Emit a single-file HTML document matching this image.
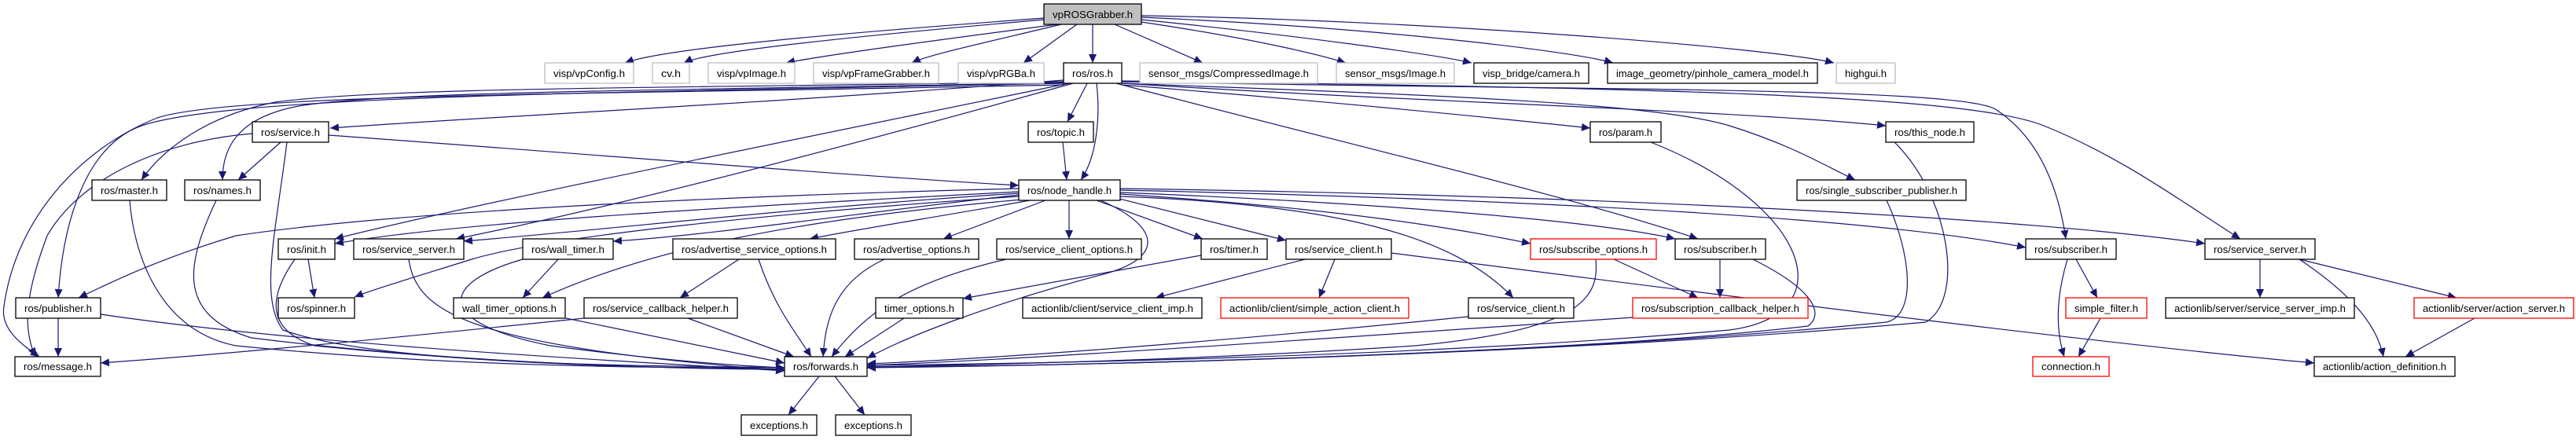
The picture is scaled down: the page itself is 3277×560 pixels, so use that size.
<!DOCTYPE html>
<html><head><meta charset="utf-8"><style>
html,body{margin:0;padding:0;background:#fff;width:3277px;height:560px;overflow:hidden}
svg{display:block}
text{font-family:"Liberation Sans",sans-serif;font-size:13px;fill:#000;text-anchor:middle}
.n{fill:#fff;stroke:#000;stroke-width:1.3}
.g{fill:#fff;stroke:#bfbfbf;stroke-width:1.3}
.r{fill:#fff;stroke:#ff0000;stroke-width:1.3}
.e{fill:none;stroke:#191970;stroke-width:1.2}
</style></head><body>
<svg width="3277" height="560" viewBox="0 0 3277 560" xmlns="http://www.w3.org/2000/svg">
<defs><marker id="a" markerUnits="userSpaceOnUse" markerWidth="12" markerHeight="10" refX="11" refY="5" orient="auto"><path d="M0,0 L11,5 L0,10 z" fill="#191970"/></marker></defs>
<g class="e" marker-end="url(#a)">
<path d="M1328,23 C1100,40 850,60 795,80"/>
<path d="M1328,25 C1100,45 900,65 870,80"/>
<path d="M1345,31 C1200,50 1050,70 1000,80"/>
<path d="M1350,31 C1250,55 1180,70 1160,80"/>
<path d="M1370,31 L1302,80"/>
<path d="M1390,31 L1390,80"/>
<path d="M1418,31 L1530,80"/>
<path d="M1452,28 C1600,50 1680,70 1712,80"/>
<path d="M1452,25 C1650,45 1830,70 1872,80"/>
<path d="M1452,22 C1750,35 2000,65 2052,80"/>
<path d="M1452,20 C1800,25 2250,60 2333,80"/>
<path d="M1353,102 C1000,130 600,150 420,163"/>
<path d="M1353,104 C900,112 500,110 350,130 C250,150 200,200 180,229"/>
<path d="M1353,105 C900,115 500,115 380,135 C300,150 283,190 283,229"/>
<path d="M1353,106 C800,118 300,120 180,160 C110,185 80,280 74,379"/>
<path d="M1353,108 C800,120 300,118 200,150 C100,190 20,280 5,390 C0,420 30,440 50,454"/>
<path d="M1360,106 C1000,180 600,260 426,304"/>
<path d="M1365,106 C1100,180 800,260 580,304"/>
<path d="M1383,106 L1358,155"/>
<path d="M1395,106 C1400,150 1395,200 1375,229"/>
<path d="M1427,108 C1700,130 1900,150 2023,163"/>
<path d="M1427,106 C1800,130 2200,140 2399,160"/>
<path d="M1427,106 C1800,120 2100,130 2200,160 C2280,185 2320,210 2360,229"/>
<path d="M1427,104 C2000,115 2500,110 2540,140 C2600,180 2620,250 2628,304"/>
<path d="M1427,103 C2100,112 2500,120 2600,160 C2700,200 2780,260 2850,304"/>
<path d="M1420,106 C1700,180 2000,250 2160,304"/>
<path d="M418,172 C800,200 1100,225 1296,236"/>
<path d="M357,181 L303,229"/>
<path d="M365,181 C350,300 330,380 360,420 C500,470 900,465 998,468"/>
<path d="M321,170 C200,180 100,230 60,300 C30,380 30,420 45,454"/>
<path d="M165,255 C170,320 200,420 300,440 C600,470 900,468 998,468"/>
<path d="M275,255 C240,330 220,400 320,430 C600,465 900,470 998,470"/>
<path d="M1352,181 L1357,229"/>
<path d="M2100,181 C2300,260 2350,400 2200,420 C1800,455 1300,463 1103,465"/>
<path d="M2410,181 C2480,250 2500,380 2450,410 C2000,450 1400,466 1103,467"/>
<path d="M2400,255 C2430,320 2440,400 2400,410 C2000,450 1400,466 1103,467"/>
<path d="M1296,240 C900,250 500,270 300,300 C200,330 140,360 100,379"/>
<path d="M1296,244 C1000,260 600,280 426,310"/>
<path d="M1296,246 C1000,265 800,290 590,307"/>
<path d="M1296,248 C1100,270 900,300 780,307"/>
<path d="M1296,250 C1000,270 700,300 600,330 C520,355 470,370 451,378"/>
<path d="M1300,254 C1000,280 820,320 690,379"/>
<path d="M1310,255 C1200,275 1100,290 1030,304"/>
<path d="M1330,255 L1200,304"/>
<path d="M1360,255 L1360,304"/>
<path d="M1395,255 L1530,304"/>
<path d="M1420,252 L1636,306"/>
<path d="M1400,255 C1480,290 1480,330 1400,350 C1250,390 1150,430 1103,456"/>
<path d="M1425,250 C1700,260 1850,300 1925,379"/>
<path d="M1425,247 C1700,265 1850,290 1947,310"/>
<path d="M1425,245 C1800,260 2050,285 2131,304"/>
<path d="M1425,242 C2000,255 2400,280 2577,315"/>
<path d="M1425,240 C2100,250 2600,280 2805,310"/>
<path d="M392,330 L400,379"/>
<path d="M375,330 C340,380 340,420 400,440 C700,470 900,468 998,470"/>
<path d="M520,330 C530,400 600,440 998,472"/>
<path d="M710,330 L665,379"/>
<path d="M665,330 C560,360 550,410 700,440 C850,460 950,466 998,468"/>
<path d="M743,405 C500,430 300,450 128,462"/>
<path d="M875,405 L1010,454"/>
<path d="M720,405 L998,462"/>
<path d="M128,400 C400,440 800,460 998,472"/>
<path d="M74,405 L74,454"/>
<path d="M940,330 L865,379"/>
<path d="M965,330 C985,390 1010,420 1032,454"/>
<path d="M1125,330 C1060,360 1050,410 1047,454"/>
<path d="M1280,330 C1150,360 1100,400 1058,454"/>
<path d="M1528,325 L1225,380"/>
<path d="M1150,405 L1075,454"/>
<path d="M1660,330 L1470,379"/>
<path d="M1698,330 L1678,379"/>
<path d="M1770,322 C2300,390 2700,440 2944,462"/>
<path d="M2053,330 L2160,379"/>
<path d="M2030,330 C2035,380 2010,420 1800,440 C1500,460 1200,465 1103,467"/>
<path d="M2188,330 L2188,379"/>
<path d="M2230,330 C2310,370 2320,400 2300,415 C2000,450 1400,465 1103,468"/>
<path d="M1868,403 C1600,430 1300,455 1103,463"/>
<path d="M2077,404 C1700,430 1300,458 1103,465"/>
<path d="M2630,330 C2615,380 2615,420 2626,454"/>
<path d="M2641,330 L2668,379"/>
<path d="M2672,405 L2644,454"/>
<path d="M2875,330 L2875,379"/>
<path d="M2925,330 C3000,380 3025,420 3032,454"/>
<path d="M2925,330 L3125,379"/>
<path d="M3148,405 L3060,454"/>
<path d="M1042,479 L1003,528"/>
<path d="M1062,479 L1100,528"/>
</g>
<g>
<rect x="1328" y="5" width="124" height="26" fill="#bfbfbf" stroke="#000" stroke-width="1.3"/><text x="1390" y="23" textLength="102" lengthAdjust="spacingAndGlyphs">vpROSGrabber.h</text>
<rect class="g" x="693" y="80" width="113" height="26"/><text x="749.5" y="98" textLength="91" lengthAdjust="spacingAndGlyphs">visp/vpConfig.h</text>
<rect class="g" x="830" y="80" width="47" height="26"/><text x="853.5" y="98" textLength="25" lengthAdjust="spacingAndGlyphs">cv.h</text>
<rect class="g" x="901" y="80" width="110" height="26"/><text x="956" y="98" textLength="88" lengthAdjust="spacingAndGlyphs">visp/vpImage.h</text>
<rect class="g" x="1035" y="80" width="159" height="26"/><text x="1114.5" y="98" textLength="137" lengthAdjust="spacingAndGlyphs">visp/vpFrameGrabber.h</text>
<rect class="g" x="1219" y="80" width="109" height="26"/><text x="1273.5" y="98" textLength="87" lengthAdjust="spacingAndGlyphs">visp/vpRGBa.h</text>
<rect class="n" x="1353" y="80" width="74" height="26"/><text x="1390" y="98" textLength="52" lengthAdjust="spacingAndGlyphs">ros/ros.h</text>
<rect class="g" x="1450" y="80" width="226" height="26"/><text x="1563" y="98" textLength="204" lengthAdjust="spacingAndGlyphs">sensor_msgs/CompressedImage.h</text>
<rect class="g" x="1700" y="80" width="150" height="26"/><text x="1775" y="98" textLength="128" lengthAdjust="spacingAndGlyphs">sensor_msgs/Image.h</text>
<rect class="n" x="1875" y="80" width="146" height="26"/><text x="1948" y="98" textLength="124" lengthAdjust="spacingAndGlyphs">visp_bridge/camera.h</text>
<rect class="n" x="2045" y="80" width="267" height="26"/><text x="2178.5" y="98" textLength="245" lengthAdjust="spacingAndGlyphs">image_geometry/pinhole_camera_model.h</text>
<rect class="g" x="2336" y="80" width="75" height="26"/><text x="2373.5" y="98" textLength="53" lengthAdjust="spacingAndGlyphs">highgui.h</text>
<rect class="n" x="321" y="155" width="97" height="26"/><text x="369.5" y="173" textLength="75" lengthAdjust="spacingAndGlyphs">ros/service.h</text>
<rect class="n" x="1308" y="155" width="83" height="26"/><text x="1349.5" y="173" textLength="61" lengthAdjust="spacingAndGlyphs">ros/topic.h</text>
<rect class="n" x="2023" y="155" width="90" height="26"/><text x="2068" y="173" textLength="68" lengthAdjust="spacingAndGlyphs">ros/param.h</text>
<rect class="n" x="2399" y="155" width="112" height="26"/><text x="2455" y="173" textLength="90" lengthAdjust="spacingAndGlyphs">ros/this_node.h</text>
<rect class="n" x="117" y="229" width="95" height="26"/><text x="164.5" y="247" textLength="73" lengthAdjust="spacingAndGlyphs">ros/master.h</text>
<rect class="n" x="235" y="229" width="96" height="26"/><text x="283" y="247" textLength="74" lengthAdjust="spacingAndGlyphs">ros/names.h</text>
<rect class="n" x="1296" y="229" width="129" height="26"/><text x="1360.5" y="247" textLength="107" lengthAdjust="spacingAndGlyphs">ros/node_handle.h</text>
<rect class="n" x="2286" y="229" width="215" height="26"/><text x="2393.5" y="247" textLength="193" lengthAdjust="spacingAndGlyphs">ros/single_subscriber_publisher.h</text>
<rect class="n" x="354" y="304" width="72" height="26"/><text x="390" y="322" textLength="50" lengthAdjust="spacingAndGlyphs">ros/init.h</text>
<rect class="n" x="450" y="304" width="140" height="26"/><text x="520" y="322" textLength="118" lengthAdjust="spacingAndGlyphs">ros/service_server.h</text>
<rect class="n" x="665" y="304" width="115" height="26"/><text x="722.5" y="322" textLength="93" lengthAdjust="spacingAndGlyphs">ros/wall_timer.h</text>
<rect class="n" x="856" y="304" width="207" height="26"/><text x="959.5" y="322" textLength="185" lengthAdjust="spacingAndGlyphs">ros/advertise_service_options.h</text>
<rect class="n" x="1087" y="304" width="158" height="26"/><text x="1166" y="322" textLength="136" lengthAdjust="spacingAndGlyphs">ros/advertise_options.h</text>
<rect class="n" x="1268" y="304" width="184" height="26"/><text x="1360" y="322" textLength="162" lengthAdjust="spacingAndGlyphs">ros/service_client_options.h</text>
<rect class="n" x="1528" y="304" width="84" height="26"/><text x="1570" y="322" textLength="62" lengthAdjust="spacingAndGlyphs">ros/timer.h</text>
<rect class="n" x="1636" y="304" width="134" height="26"/><text x="1703" y="322" textLength="112" lengthAdjust="spacingAndGlyphs">ros/service_client.h</text>
<rect class="r" x="1947" y="304" width="160" height="26"/><text x="2027" y="322" textLength="138" lengthAdjust="spacingAndGlyphs">ros/subscribe_options.h</text>
<rect class="n" x="2131" y="304" width="115" height="26"/><text x="2188.5" y="322" textLength="93" lengthAdjust="spacingAndGlyphs">ros/subscriber.h</text>
<rect class="n" x="2577" y="304" width="115" height="26"/><text x="2634.5" y="322" textLength="93" lengthAdjust="spacingAndGlyphs">ros/subscriber.h</text>
<rect class="n" x="2805" y="304" width="140" height="26"/><text x="2875" y="322" textLength="118" lengthAdjust="spacingAndGlyphs">ros/service_server.h</text>
<rect class="n" x="20" y="379" width="108" height="26"/><text x="74" y="397" textLength="86" lengthAdjust="spacingAndGlyphs">ros/publisher.h</text>
<rect class="n" x="354" y="379" width="97" height="26"/><text x="402.5" y="397" textLength="75" lengthAdjust="spacingAndGlyphs">ros/spinner.h</text>
<rect class="n" x="577" y="379" width="142" height="26"/><text x="648" y="397" textLength="120" lengthAdjust="spacingAndGlyphs">wall_timer_options.h</text>
<rect class="n" x="743" y="379" width="195" height="26"/><text x="840.5" y="397" textLength="173" lengthAdjust="spacingAndGlyphs">ros/service_callback_helper.h</text>
<rect class="n" x="1114" y="379" width="111" height="26"/><text x="1169.5" y="397" textLength="89" lengthAdjust="spacingAndGlyphs">timer_options.h</text>
<rect class="n" x="1301" y="379" width="228" height="26"/><text x="1415" y="397" textLength="206" lengthAdjust="spacingAndGlyphs">actionlib/client/service_client_imp.h</text>
<rect class="r" x="1553" y="379" width="239" height="26"/><text x="1672.5" y="397" textLength="217" lengthAdjust="spacingAndGlyphs">actionlib/client/simple_action_client.h</text>
<rect class="n" x="1868" y="379" width="134" height="26"/><text x="1935" y="397" textLength="112" lengthAdjust="spacingAndGlyphs">ros/service_client.h</text>
<rect class="r" x="2077" y="379" width="223" height="26"/><text x="2188.5" y="397" textLength="201" lengthAdjust="spacingAndGlyphs">ros/subscription_callback_helper.h</text>
<rect class="r" x="2628" y="379" width="103" height="26"/><text x="2679.5" y="397" textLength="81" lengthAdjust="spacingAndGlyphs">simple_filter.h</text>
<rect class="n" x="2755" y="379" width="240" height="26"/><text x="2875" y="397" textLength="218" lengthAdjust="spacingAndGlyphs">actionlib/server/service_server_imp.h</text>
<rect class="r" x="3071" y="379" width="203" height="26"/><text x="3172.5" y="397" textLength="181" lengthAdjust="spacingAndGlyphs">actionlib/server/action_server.h</text>
<rect class="n" x="19" y="454" width="109" height="25"/><text x="73.5" y="471" textLength="87" lengthAdjust="spacingAndGlyphs">ros/message.h</text>
<rect class="n" x="998" y="454" width="105" height="25"/><text x="1050.5" y="471" textLength="83" lengthAdjust="spacingAndGlyphs">ros/forwards.h</text>
<rect class="r" x="2586" y="454" width="97" height="25"/><text x="2634.5" y="471" textLength="75" lengthAdjust="spacingAndGlyphs">connection.h</text>
<rect class="n" x="2944" y="454" width="179" height="25"/><text x="3033.5" y="471" textLength="157" lengthAdjust="spacingAndGlyphs">actionlib/action_definition.h</text>
<rect class="n" x="943" y="528" width="96" height="26"/><text x="991" y="546" textLength="74" lengthAdjust="spacingAndGlyphs">exceptions.h</text>
<rect class="n" x="1063" y="528" width="96" height="26"/><text x="1111" y="546" textLength="74" lengthAdjust="spacingAndGlyphs">exceptions.h</text>
</g>
</svg>
</body></html>
